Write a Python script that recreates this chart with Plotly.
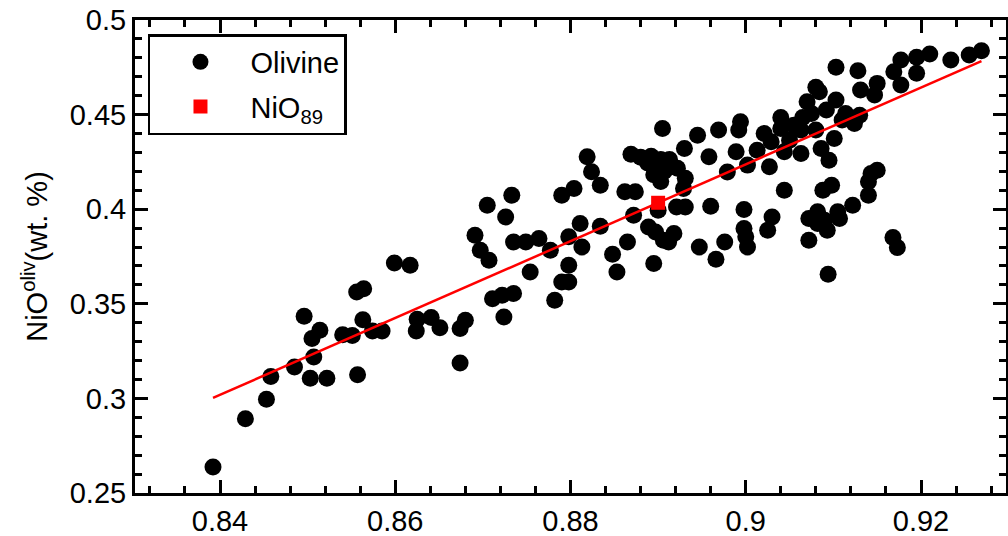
import plotly.graph_objects as go

# Olivine analyses: forsterite fraction vs NiO (wt. %)
fo_olivine = [
    0.8392, 0.8429, 0.8453, 0.8458, 0.8485, 0.8496, 0.8503, 0.8507, 0.8505, 0.8514,
    0.8522, 0.8540, 0.8551, 0.8557, 0.8556, 0.8564, 0.8563, 0.8574, 0.8585, 0.8599,
    0.8617, 0.8625, 0.8624, 0.8641, 0.8651, 0.8674, 0.8674, 0.8680,
    0.8691, 0.8697, 0.8707, 0.8705, 0.8733, 0.8726, 0.8735, 0.8749, 0.8764, 0.8754,
    0.8711, 0.8722, 0.8735, 0.8724, 0.8777, 0.8782, 0.8790, 0.8798, 0.8790, 0.8804,
    0.8798, 0.8811, 0.8813, 0.8798, 0.8819, 0.8824, 0.8834, 0.8834, 0.8848, 0.8853,
    0.8862, 0.8874, 0.8865, 0.8872,
    0.8869, 0.8880, 0.8892, 0.8903, 0.8913, 0.8888, 0.8899, 0.8910, 0.8895, 0.8907,
    0.8922, 0.8931, 0.8903, 0.8900, 0.8921, 0.8931, 0.8889, 0.8897, 0.8906, 0.8918,
    0.8912, 0.8895, 0.8905, 0.8930, 0.8929, 0.8912,
    0.9103, 0.9128, 0.9269, 0.9255, 0.9234, 0.9210, 0.9195, 0.9177, 0.9169, 0.9195,
    0.9177, 0.9150, 0.9131, 0.9147, 0.9080, 0.9084, 0.9070, 0.9103, 0.9114, 0.9130,
    0.9124, 0.9110, 0.9092, 0.9040, 0.9065, 0.9055, 0.9040, 0.9075, 0.9021, 0.9029,
    0.9050, 0.9063, 0.9080, 0.9101, 0.9095, 0.9086, 0.9063, 0.9044, 0.9013, 0.8994,
    0.8992, 0.8969, 0.8945, 0.8958, 0.8979, 0.9002, 0.8989, 0.9027, 0.9143, 0.9150,
    0.9140, 0.9140, 0.9044, 0.9088, 0.9098,
    0.8960, 0.8998, 0.8947, 0.8966, 0.8976, 0.8998, 0.9000, 0.9002, 0.9025, 0.9030,
    0.9072, 0.9082, 0.9090, 0.9093, 0.9105, 0.9107, 0.9122, 0.9072, 0.9082, 0.9094,
    0.9168, 0.9173,
]
nio_olivine = [
    0.2637, 0.2893, 0.2995, 0.3116, 0.3166, 0.3434, 0.3106, 0.3219, 0.3316, 0.3360,
    0.3106, 0.3337, 0.3333, 0.3125, 0.3562, 0.3580, 0.3416, 0.3356, 0.3356, 0.3716,
    0.3704, 0.3418, 0.3356, 0.3427, 0.3374, 0.3187, 0.3369, 0.3413,
    0.3862, 0.3783, 0.3730, 0.4021, 0.4074, 0.3959, 0.3827, 0.3827, 0.3845, 0.3668,
    0.3527, 0.3545, 0.3554, 0.3430, 0.3783, 0.3519, 0.3615, 0.3615, 0.4074, 0.4110,
    0.3854, 0.3924, 0.3800, 0.3704, 0.4277, 0.4198, 0.4127, 0.3910, 0.3762, 0.3668,
    0.4092, 0.4092, 0.3827, 0.3968,
    0.4291, 0.4275, 0.4280, 0.4263, 0.4263, 0.4244, 0.4235, 0.4244, 0.4182, 0.4200,
    0.4217, 0.4164, 0.4147, 0.3995, 0.4012, 0.4012, 0.3906, 0.3880, 0.3836, 0.3871,
    0.3827, 0.3713, 0.4427, 0.4321, 0.4110, 0.4224,
    0.4750, 0.4732, 0.4838, 0.4815, 0.4788, 0.4820, 0.4803, 0.4789, 0.4727, 0.4718,
    0.4656, 0.4665, 0.4630, 0.4603, 0.4644, 0.4621, 0.4568, 0.4577, 0.4506, 0.4497,
    0.4453, 0.4471, 0.4524, 0.4485, 0.4485, 0.4444, 0.4427, 0.4506, 0.4400, 0.4356,
    0.4365, 0.4418, 0.4418, 0.4374, 0.4259, 0.4321, 0.4295, 0.4304, 0.4312, 0.4462,
    0.4418, 0.4418, 0.4391, 0.4277, 0.4197, 0.4233, 0.4304, 0.4224, 0.4189, 0.4206,
    0.4145, 0.4074, 0.4100, 0.4100, 0.4127,
    0.4016, 0.3998, 0.3800, 0.3735, 0.3827, 0.3898, 0.3854, 0.3800, 0.3889, 0.3959,
    0.3951, 0.3986, 0.3942, 0.3889, 0.3986, 0.3951, 0.4021, 0.3836, 0.3924, 0.3656,
    0.3850, 0.3797,
]

# Linear fit of NiO on Fo, and its value at Fo = 0.89
fit_slope = 2.03
fo_ref = 0.89
nio_ref = 0.4034
fit_intercept = nio_ref - fit_slope * fo_ref

fit_x = [min(fo_olivine), max(fo_olivine)]
fit_y = [fit_intercept + fit_slope * v for v in fit_x]

FONT = "Liberation Sans, Arial, Helvetica, sans-serif"

fig = go.Figure()
fig.add_trace(go.Scatter(
    x=fo_olivine, y=nio_olivine, mode="markers", name="Olivine",
    legendgroup="olivine",
    marker=dict(color="black", size=17, symbol="circle", line=dict(width=0)),
))
fig.add_trace(go.Scatter(
    x=fit_x, y=fit_y, mode="lines", showlegend=False,
    line=dict(color="#ff0000", width=2.5),
))
fig.add_trace(go.Scatter(
    x=[fo_ref], y=[nio_ref], mode="markers", name="NiO<sub>89</sub>",
    legendgroup="ref",
    marker=dict(color="#ff0000", size=14, symbol="square", line=dict(width=0)),
))

axis_common = dict(
    showline=True, linecolor="black", linewidth=3, mirror="allticks",
    ticks="inside", ticklen=13, tickwidth=2.5, tickcolor="black",
    showgrid=False, zeroline=False,
    tickfont=dict(family=FONT, size=29, color="black"),
)

fig.update_layout(
    width=1008, height=536,
    margin=dict(l=135, r=2, t=20, b=43, autoexpand=False),
    paper_bgcolor="white", plot_bgcolor="white",
    font=dict(family=FONT, size=28, color="black"),
    xaxis=dict(
        range=[0.8303, 0.9297], tick0=0.84, dtick=0.02,
        minor=dict(dtick=0.004, ticks="inside", ticklen=7, tickwidth=2.5, tickcolor="black"),
        **axis_common,
    ),
    yaxis=dict(
        range=[0.25, 0.5], tick0=0.25, dtick=0.05,
        minor=dict(dtick=0.01, ticks="inside", ticklen=7, tickwidth=2.5, tickcolor="black"),
        title=dict(text="NiO<sup>oliv</sup>(wt. %)", font=dict(family=FONT, size=29), standoff=14),
        **axis_common,
    ),
    legend=dict(
        x=0.0149, y=0.9704, xanchor="left", yanchor="top",
        bgcolor="white", bordercolor="black", borderwidth=2.5,
        font=dict(family=FONT, size=29, color="black"),
        itemwidth=90, traceorder="grouped", tracegroupgap=4,
    ),
)

fig.write_html("out.html")
